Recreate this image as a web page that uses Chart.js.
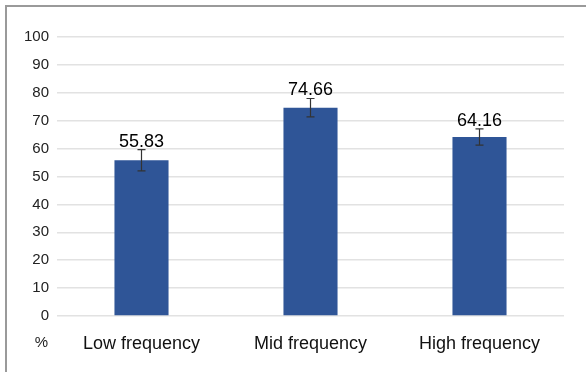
<!DOCTYPE html>
<html>
<head>
<meta charset="utf-8">
<script src="https://cdn.jsdelivr.net/npm/chart.js@4"></script>
<style>
html,body{margin:0;padding:0;background:#fff;}
#wrap{position:relative;width:586px;height:372px;}
#frame{position:absolute;left:5px;top:5px;width:600px;height:400px;border-left:2px solid #9a9a9a;border-top:2px solid #9a9a9a;box-sizing:border-box;pointer-events:none;}
canvas{position:absolute;left:0;top:0;}
</style>
</head>
<body>
<div id="wrap">
<canvas id="c" width="586" height="372"></canvas>
<div id="frame"></div>
</div>
<script>
const categories = ["Low frequency", "Mid frequency", "High frequency"];
const values = [55.83, 74.66, 64.16];
const errors = [3.8, 3.3, 2.9];
const yUnitLabel = "%";

const FONT = "'Liberation Sans', Arial, sans-serif";

const overlay = {
  id: 'overlay',
  afterDatasetsDraw(chart) {
    const ctx = chart.ctx;
    const y = chart.scales.y;
    const meta = chart.getDatasetMeta(0);
    ctx.save();
    meta.data.forEach((bar, i) => {
      const x = bar.x;
      const top = y.getPixelForValue(values[i] + errors[i]);
      const bot = y.getPixelForValue(values[i] - errors[i]);
      ctx.strokeStyle = '#333';
      ctx.lineWidth = 1.2;
      ctx.beginPath();
      ctx.moveTo(x, top); ctx.lineTo(x, bot);
      ctx.moveTo(x - 4, top); ctx.lineTo(x + 4, top);
      ctx.moveTo(x - 4, bot); ctx.lineTo(x + 4, bot);
      ctx.stroke();
      ctx.fillStyle = '#000';
      ctx.font = '18px ' + FONT;
      ctx.textAlign = 'center';
      ctx.textBaseline = 'alphabetic';
      ctx.fillText(values[i].toFixed(2), x, top - 3);
    });
    // unit label
    const xs = chart.scales.x;
    ctx.fillStyle = '#222';
    ctx.font = '15px ' + FONT;
    ctx.textAlign = 'right';
    ctx.textBaseline = 'middle';
    ctx.fillText(yUnitLabel, chart.chartArea.left - 9, xs.top + 27);
    ctx.restore();
  }
};

new Chart(document.getElementById('c'), {
  type: 'bar',
  data: {
    labels: categories,
    datasets: [{
      data: values,
      backgroundColor: '#2f5597',
      borderColor: '#2a4f8f',
      borderWidth: 0,
      barPercentage: 0.64,
      categoryPercentage: 0.5
    }]
  },
  options: {
    responsive: false,
    animation: false,
    devicePixelRatio: 1,
    layout: { padding: { left: 0, right: 22, top: 37, bottom: 0 } },
    plugins: { legend: { display: false }, tooltip: { enabled: false } },
    scales: {
      x: {
        grid: { display: false, drawTicks: false },
        border: { display: false },
        ticks: { color: '#111', font: { family: FONT, size: 18 }, padding: 17, maxRotation: 0 },
        afterFit(s) { s.height = 56; }
      },
      y: {
        min: 0, max: 100,
        grid: { color: '#e2e2e2', lineWidth: 1.5, drawTicks: false },
        border: { display: false },
        ticks: { stepSize: 10, color: '#222', font: { family: FONT, size: 15 }, padding: 8 },
        afterFit(s) { s.width = 57; }
      }
    }
  },
  plugins: [overlay]
});
</script>
</body>
</html>
